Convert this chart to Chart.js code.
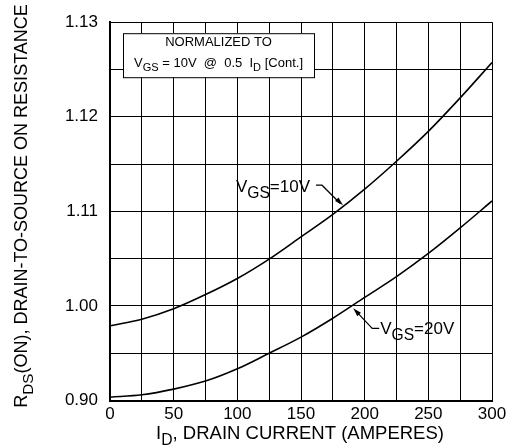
<!DOCTYPE html>
<html lang="en">
<head>
<meta charset="UTF-8">
<title>RDS(ON) vs Drain Current</title>
<script src="https://cdn.jsdelivr.net/npm/chart.js@4.4.0/dist/chart.umd.min.js"></script>
<style>
    * { margin: 0; padding: 0; box-sizing: border-box; }
    body { background: #fff; width: 514px; height: 446px; overflow: hidden; }
    #wrap { position: relative; width: 514px; height: 446px; }
</style>
</head>
<body>
<div id="wrap"><canvas id="chart" width="514" height="446"></canvas></div>
<script>
// drain current (A)
const current = [0, 25, 50, 75, 100, 125, 150, 175, 200, 225, 250, 275, 300];
// normalized RDS(on), VGS = 10V
const vgs10 = [0.979, 0.986, 0.997, 1.012, 1.029, 1.0495, 1.073, 1.0968, 1.1235, 1.153, 1.1846, 1.220, 1.2574];
// normalized RDS(on), VGS = 20V
const vgs20 = [0.9035, 0.906, 0.912, 0.9205, 0.9335, 0.950, 0.967, 0.987, 1.009, 1.031, 1.0555, 1.0825, 1.111];
// printed y tick labels (as on the original sheet)
const yTickValues = [0.90, 1.00, 1.10, 1.20, 1.30];
const yTickLabels = ['0.90', '1.00', '1.11', '1.12', '1.13'];
const xTickLabels = [0, 50, 100, 150, 200, 250, 300];

const FONT = 'Arial, "Liberation Sans", Helvetica, sans-serif';

// draw text made of parts, some of them subscript
function richWidth(ctx, parts, size, subScale) {
    let w = 0;
    parts.forEach(p => {
        ctx.font = (p.sub ? size * subScale : size) + 'px ' + FONT;
        w += ctx.measureText(p.t).width;
    });
    return w;
}
function drawRich(ctx, parts, x, y, size, align, subScale) {
    subScale = subScale || 0.85;
    const w = richWidth(ctx, parts, size, subScale);
    let cx = align === 'center' ? x - w / 2 : (align === 'right' ? x - w : x);
    ctx.textAlign = 'left';
    ctx.textBaseline = 'alphabetic';
    parts.forEach(p => {
        ctx.font = (p.sub ? size * subScale : size) + 'px ' + FONT;
        ctx.fillText(p.t, cx, y + (p.sub ? size * 0.32 : 0));
        cx += ctx.measureText(p.t).width;
    });
}

function arrowHead(ctx, fx, fy, tx, ty) {
    const ang = Math.atan2(ty - fy, tx - fx);
    const len = 9, half = 0.28;
    ctx.beginPath();
    ctx.moveTo(tx, ty);
    ctx.lineTo(tx - len * Math.cos(ang - half), ty - len * Math.sin(ang - half));
    ctx.lineTo(tx - len * Math.cos(ang + half), ty - len * Math.sin(ang + half));
    ctx.closePath();
    ctx.fill();
}

const labelsPlugin = {
    id: 'labels',
    afterDraw(chart) {
        const ctx = chart.ctx;
        const a = chart.chartArea;
        const xs = chart.scales.x, ys = chart.scales.y;
        ctx.save();
        ctx.fillStyle = '#000';
        ctx.strokeStyle = '#000';

        // axis titles
        ctx.save();
        ctx.translate(27, 206);
        ctx.rotate(-Math.PI / 2);
        drawRich(ctx, [{t: 'R'}, {t: 'DS', sub: true}, {t: '(ON), DRAIN-TO-SOURCE ON RESISTANCE'}], 0, 0, 18, 'center');
        ctx.restore();
        drawRich(ctx, [{t: 'I'}, {t: 'D', sub: true}, {t: ', DRAIN CURRENT (AMPERES)'}], 300, 439, 18.5, 'center');

        // normalization box
        const bx = a.left + 13, by = a.top + 11, bw = 191, bh = 44;
        ctx.fillStyle = '#fff';
        ctx.fillRect(bx, by, bw, bh);
        ctx.lineWidth = 1;
        ctx.strokeRect(bx + 0.5, by + 0.5, bw, bh);
        ctx.fillStyle = '#000';
        ctx.font = '13px ' + FONT;
        ctx.textAlign = 'center';
        ctx.textBaseline = 'alphabetic';
        ctx.fillText('NORMALIZED TO', bx + bw / 2, by + 13);
        drawRich(ctx, [{t: 'V'}, {t: 'GS', sub: true}, {t: ' = 10V  @  0.5  I'}, {t: 'D', sub: true}, {t: ' [Cont.]'}], bx + bw / 2, by + 34, 13, 'center');

        // curve callouts
        ctx.lineWidth = 1.2;
        const t10x = xs.getPixelForValue(183), t10y = ys.getPixelForValue(1.1065);
        drawRich(ctx, [{t: 'V'}, {t: 'GS', sub: true}, {t: '=10V'}], t10x - 33, t10y - 13, 17, 'right', 0.92);
        ctx.beginPath();
        ctx.moveTo(t10x - 27, t10y - 20);
        ctx.lineTo(t10x - 21, t10y - 20);
        ctx.lineTo(t10x - 3, t10y - 2);
        ctx.stroke();
        arrowHead(ctx, t10x - 21, t10y - 20, t10x, t10y);

        const t20x = xs.getPixelForValue(191), t20y = ys.getPixelForValue(0.9975);
        ctx.beginPath();
        ctx.moveTo(t20x + 3, t20y + 3);
        ctx.lineTo(t20x + 19, t20y + 20);
        ctx.lineTo(t20x + 26, t20y + 20);
        ctx.stroke();
        arrowHead(ctx, t20x + 19, t20y + 20, t20x, t20y);
        drawRich(ctx, [{t: 'V'}, {t: 'GS', sub: true}, {t: '=20V'}], t20x + 27, t20y + 26, 17, 'left', 0.92);
        ctx.restore();
    }
};

new Chart(document.getElementById('chart'), {
    type: 'line',
    data: {
        labels: current,
        datasets: [
            { label: 'VGS=10V', data: current.map((x, i) => ({x: x, y: vgs10[i]})) },
            { label: 'VGS=20V', data: current.map((x, i) => ({x: x, y: vgs20[i]})) }
        ].map(d => Object.assign(d, {
            borderColor: '#000', borderWidth: 1.6, pointRadius: 0,
            cubicInterpolationMode: 'monotone', fill: false
        }))
    },
    options: {
        responsive: false,
        animation: false,
        layout: { padding: { left: 0, top: 16, right: 22, bottom: 0 } },
        plugins: { legend: { display: false }, tooltip: { enabled: false } },
        scales: {
            x: {
                type: 'linear', min: 0, max: 300,
                afterFit: s => { s.height = 45.5; },
                grid: { color: '#000', lineWidth: 1, drawTicks: false },
                border: { color: '#000', width: 2 },
                ticks: {
                    stepSize: 25, padding: 4, color: '#000', maxRotation: 0,
                    font: { family: FONT, size: 17 },
                    callback: v => xTickLabels.includes(v) ? String(v) : ''
                }
            },
            y: {
                type: 'linear', min: 0.9, max: 1.3,
                afterFit: s => { s.width = 110; },
                grid: { color: '#000', lineWidth: 1, drawTicks: false },
                border: { color: '#000', width: 2 },
                ticks: {
                    stepSize: 0.05, padding: 12, color: '#000',
                    font: { family: FONT, size: 17 },
                    callback: v => {
                        const i = yTickValues.findIndex(t => Math.abs(t - v) < 1e-6);
                        return i >= 0 ? yTickLabels[i] : '';
                    }
                }
            }
        }
    },
    plugins: [labelsPlugin]
});
</script>
</body>
</html>
